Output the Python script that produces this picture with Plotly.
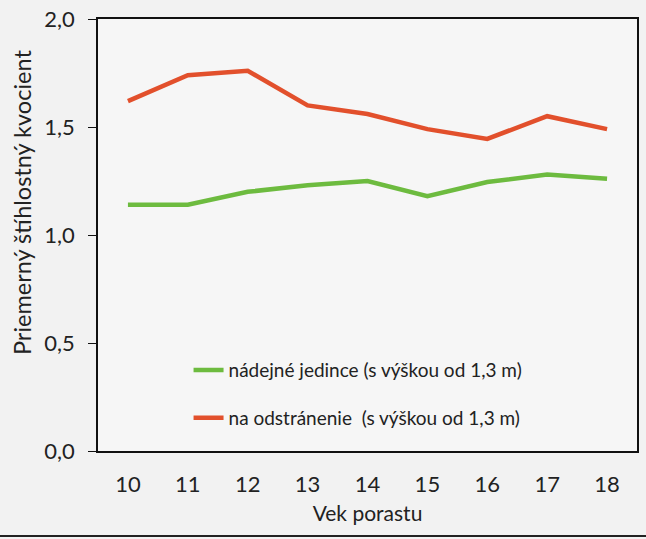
import plotly.graph_objects as go

ages = [10, 11, 12, 13, 14, 15, 16, 17, 18]
nadejne = [1.14, 1.14, 1.20, 1.23, 1.25, 1.18, 1.245, 1.28, 1.26]
odstranenie = [1.62, 1.74, 1.76, 1.60, 1.56, 1.49, 1.445, 1.55, 1.49]
name_green = "nádejné jedince (s výškou od 1,3 m)"
name_red = "na odstránenie  (s výškou od 1,3 m)"
y_title = "Priemerný štíhlostný kvocient"
x_title = "Vek porastu"

FONT = "Lato"
fig = go.Figure()
fig.add_trace(go.Scatter(x=ages, y=nadejne, mode="lines", name=name_green,
                         legendgroup="g", line=dict(color="#6dbb3f", width=4.5)))
fig.add_trace(go.Scatter(x=ages, y=odstranenie, mode="lines", name=name_red,
                         legendgroup="r", line=dict(color="#e2502c", width=4.5)))

fig.update_layout(
    width=646, height=539,
    margin=dict(l=98, r=9, t=19, b=88, autoexpand=False),
    paper_bgcolor="#f2f2f2", plot_bgcolor="#f6f6f6",
    separators=", ",
    font=dict(family=FONT, size=20, color="#222"),
    showlegend=True,
    legend=dict(x=0.168, y=0.231, xanchor="left", yanchor="top",
                bgcolor="rgba(0,0,0,0)", font=dict(size=19, color="#222"),
                traceorder="grouped", tracegroupgap=20),
    xaxis=dict(range=[9.5, 18.5], tickvals=ages, ticks="", showgrid=False,
               showline=True, linecolor="#111", linewidth=1.5, mirror=True,
               zeroline=False, ticklabelstandoff=13, automargin=False,
               tickfont=dict(size=22),
               title=dict(text=x_title, font=dict(size=21), standoff=10)),
    yaxis=dict(range=[0, 2.0], tickvals=[0, 0.5, 1.0, 1.5, 2.0], tickformat=".1f",
               ticks="outside", ticklen=8, tickcolor="#111", showgrid=False,
               showline=True, linecolor="#111", linewidth=1.5, mirror=True,
               zeroline=False, tickfont=dict(size=22), automargin=False,
               ticklabelstandoff=9),
)
fig.add_annotation(text=y_title, textangle=-90, xref="paper", yref="paper",
                   x=-0.142, y=0.575, xanchor="center", yanchor="middle",
                   showarrow=False, font=dict(size=23.5, color="#222"))
fig.add_shape(type="line", xref="paper", yref="paper", x0=-0.2, x1=1.1,
              y0=-0.197, y1=-0.197, line=dict(color="#222", width=2))
fig.write_html("out.html", config={"displayModeBar": False},
               post_script="document.body.style.margin='0';")
